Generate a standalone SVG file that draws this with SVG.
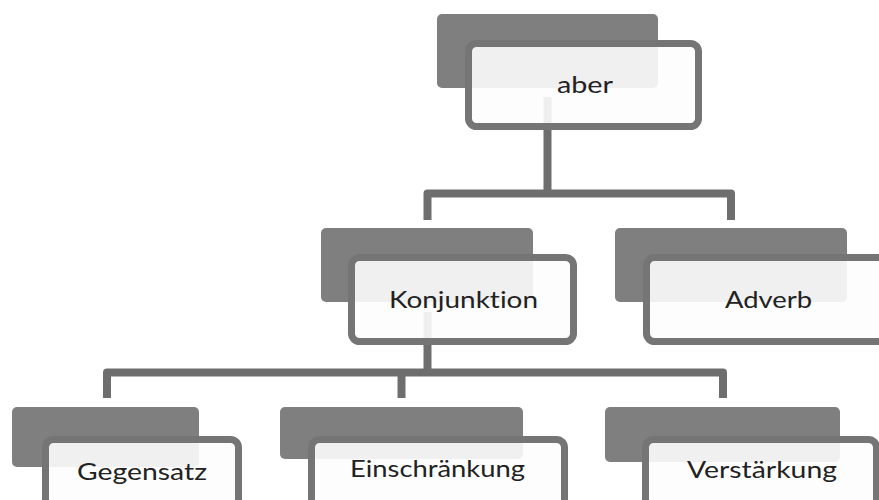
<svg xmlns="http://www.w3.org/2000/svg" width="879" height="500" viewBox="0 0 879 500">
<style>
.back{fill:#7f7f7f;}
.front{fill:#fdfdfd;fill-opacity:0.9;stroke:#757575;stroke-width:7;}
.conn{fill:none;stroke:#6e6e6e;stroke-width:8;stroke-linejoin:round;}
text{font-family:Lato,"Open Sans","Liberation Sans",sans-serif;font-size:23px;fill:#222222;text-anchor:middle;font-variant-ligatures:none;font-feature-settings:"liga" 0,"clig" 0;}
</style>
<rect width="879" height="500" fill="#ffffff"/>
<g id="connectors">
<path class="conn" d="M547.5 97 V193.5"/>
<path class="conn" d="M427.5 220 V193.5 H731 V220"/>
<path class="conn" d="M427.5 312 V372.5"/>
<path class="conn" d="M107 398 V372.5 H723 V398"/>
<path class="conn" d="M401.5 372.5 V398"/>
</g>
<g id="node-aber">
<rect class="back" x="437" y="14" width="221" height="74" rx="5"/>
<rect class="front" x="468.5" y="43.5" width="230" height="83" rx="8"/>
<text x="585" y="93" textLength="56" lengthAdjust="spacingAndGlyphs">aber</text>
</g>
<g id="node-konjunktion">
<rect class="back" x="321" y="228" width="212" height="74" rx="5"/>
<rect class="front" x="351.5" y="257.5" width="222" height="84" rx="8"/>
<text x="463.5" y="308" textLength="149" lengthAdjust="spacingAndGlyphs">Konjunktion</text>
</g>
<g id="node-adverb">
<rect class="back" x="615" y="228" width="232" height="74" rx="5"/>
<rect class="front" x="646.5" y="257.5" width="245" height="84" rx="8"/>
<text x="768.5" y="308" textLength="87" lengthAdjust="spacingAndGlyphs">Adverb</text>
</g>
<g id="node-gegensatz">
<rect class="back" x="12" y="407" width="187" height="60" rx="5"/>
<rect class="front" x="45.5" y="439.5" width="193" height="90" rx="8"/>
<text x="142" y="480" textLength="130" lengthAdjust="spacingAndGlyphs">Gegensatz</text>
</g>
<g id="node-einschraenkung">
<rect class="back" x="280" y="407" width="243" height="52" rx="5"/>
<rect class="front" x="311.5" y="439.5" width="253" height="90" rx="8"/>
<text x="437.5" y="477" textLength="175" lengthAdjust="spacingAndGlyphs">Einschränkung</text>
</g>
<g id="node-verstaerkung">
<rect class="back" x="605" y="407" width="235" height="55" rx="5"/>
<rect class="front" x="645.5" y="439.5" width="231" height="90" rx="8"/>
<text x="762" y="478" textLength="150" lengthAdjust="spacingAndGlyphs">Verstärkung</text>
</g>
</svg>
